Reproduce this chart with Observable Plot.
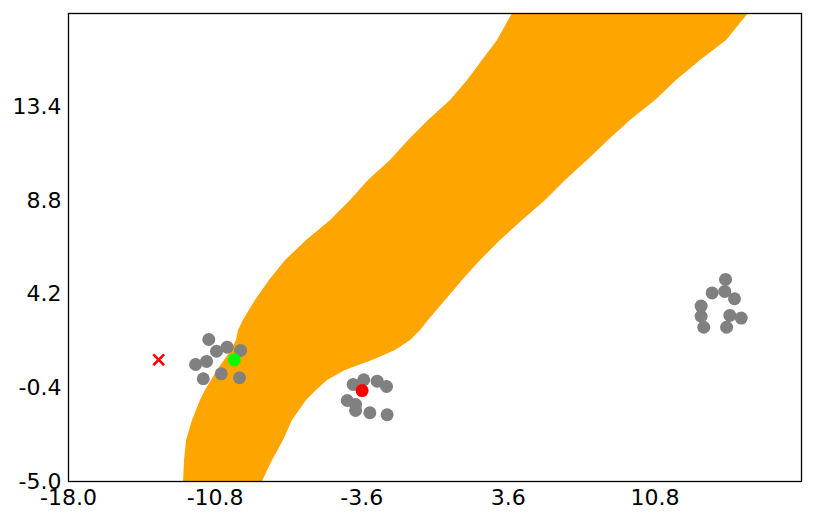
<!DOCTYPE html>
<html>
<head>
<meta charset="utf-8">
<script src="https://cdn.jsdelivr.net/npm/d3@7"></script>
<script src="https://cdn.jsdelivr.net/npm/@observablehq/plot@0.6"></script>
<style>
  html, body { margin: 0; padding: 0; background: #fff; }
  svg { display: block; }
</style>
</head>
<body>
<div id="chart"></div>
<script>
// Band (orange region): for each y, left and right x boundaries
const bandY     = [-5, -3.97, -2.99, -2.00, -1.02, -0.53, -0.04, 0.46, 0.95, 1.44, 1.93, 2.42, 2.91, 3.90, 4.88, 5.86, 6.84, 7.83, 8.81, 9.79, 10.78, 11.76, 12.74, 13.72, 14.71, 15.69, 16.67, 18];
const bandLeft  = [-12.35, -12.30, -12.20, -11.91, -11.52, -11.27, -10.98, -10.68, -10.34, -9.99, -9.75, -9.65, -9.41, -8.82, -8.13, -7.34, -6.31, -5.13, -4.15, -3.27, -2.19, -1.30, -0.32, 0.76, 1.60, 2.33, 3.07, 3.81];
const bandRight = [-8.47, -7.98, -7.44, -7.00, -6.31, -5.82, -5.28, -4.40, -3.07, -1.94, -1.20, -0.71, -0.32, 0.52, 1.35, 2.24, 3.22, 4.30, 5.43, 6.41, 7.49, 8.52, 9.60, 10.83, 11.86, 13.04, 14.32, 15.40];

// Gray points (three clusters)
const grayX = [-11.11, -10.73, -10.21, -9.55, -11.76, -11.22, -10.50, -11.38, -9.60,
               -4.02, -3.50, -2.84, -2.38, -4.31, -3.90, -3.90, -3.20, -2.35,
               14.27, 13.61, 14.23, 14.71, 13.07, 13.07, 13.20, 14.48, 15.04, 14.32];
const grayY = [1.98, 1.40, 1.60, 1.44, 0.75, 0.90, 0.29, 0.05, 0.10,
               -0.23, 0.00, -0.07, -0.33, -1.02, -1.22, -1.51, -1.62, -1.72,
               4.93, 4.27, 4.34, 3.98, 3.62, 3.12, 2.58, 3.16, 3.03, 2.58];

// Highlighted points
const greenPoint = [-9.86, 0.98];
const redPoint = [-3.58, -0.53];
const redCross = [-13.57, 0.98];

// Tick values
const xTicks = [-18.0, -10.8, -3.6, 3.6, 10.8];
const yTicks = [-5.0, -0.4, 4.2, 8.8, 13.4];

const band = bandY.map((y, i) => ({y, x1: bandLeft[i], x2: bandRight[i]}));
const grays = grayX.map((x, i) => ({x, y: grayY[i]}));

const chart = Plot.plot({
  width: 814,
  height: 522,
  marginLeft: 68,
  marginRight: 13,
  marginTop: 13,
  marginBottom: 41,
  style: {fontFamily: "DejaVu Sans", fontSize: "22px", color: "black", background: "white"},
  x: {domain: [-18, 18], ticks: xTicks, tickFormat: d => d.toFixed(1), tickSize: 0, tickPadding: 8, label: null},
  y: {domain: [-5, 18], ticks: yTicks, tickFormat: d => d.toFixed(1), tickSize: 0, tickPadding: 7, label: null},
  marks: [
    Plot.areaX(band, {y: "y", x1: "x1", x2: "x2", fill: "#FFA500", curve: "linear"}),
    Plot.dot(grays, {x: "x", y: "y", r: 6.5, fill: "gray"}),
    Plot.dot([greenPoint], {x: d => d[0], y: d => d[1], r: 6.5, fill: "#00FF00"}),
    Plot.dot([redPoint], {x: d => d[0], y: d => d[1], r: 6.5, fill: "red"}),
    Plot.dot([redCross], {x: d => d[0], y: d => d[1], r: 5, symbol: "times", stroke: "red", strokeWidth: 2.5}),
    Plot.frame({stroke: "black", strokeWidth: 1.3})
  ]
});
document.getElementById("chart").appendChild(chart);
</script>
</body>
</html>
